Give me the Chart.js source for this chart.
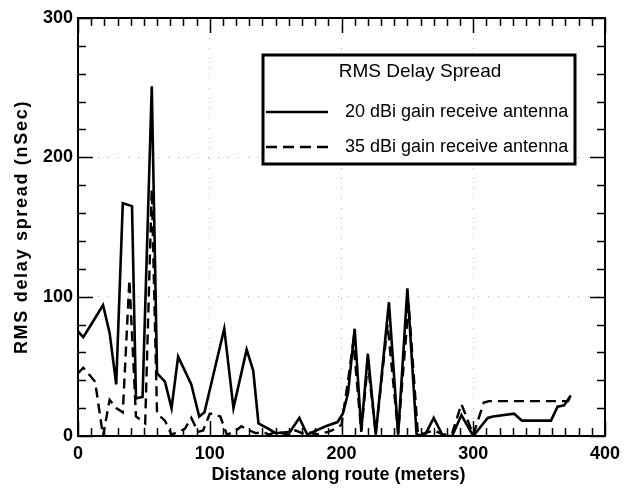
<!DOCTYPE html>
<html>
<head>
<meta charset="utf-8">
<script src="https://cdn.jsdelivr.net/npm/chart.js@4.4.1/dist/chart.umd.min.js"></script>
<style>
  html, body { margin: 0; padding: 0; background: #fff; }
  #wrap { width: 642px; height: 489px; }
</style>
</head>
<body>
<div id="wrap"><canvas id="c" width="642" height="489"></canvas></div>
<script>
// ---- data ----
const distance20 = [0,4,10,19,24,29,34,41,44,49,56,60,66,71,76,86,92,96,111,118,128,133,137,145,150,161,168,174,181,188,197,201,205,210,215,220,226,236,243,250,257,263,270,277,284,291,300,311,315,331,337,347,359,364,369,374];
const delay20    = [75,71,80,94,74,37,167,165,27,28,251,45,39,20,57,37,14,17,77,20,62,47,9,5,2,3,13,1,4,7,10,16,31,77,4,59,1,96,1,106,1,0,13,0,0,15,0,13,14,16,11,11,11,21,22,29];

const distance35 = [0,4,13,19,24,29,34,39,44,51,56,60,66,71,76,81,86,91,95,100,102,108,113,119,124,130,135,140,145,150,155,160,165,170,175,180,185,190,195,200,205,209,215,220,226,235,243,251,258,263,270,277,284,291,300,308,312,372,374];
const delay35    = [45,49,39,0,26,20,17,112,14,9,177,16,11,1,3,5,13,3,4,16,16,14,1,3,7,4,2,3,1,3,2,1,4,2,3,1,2,3,5,8,40,68,3,52,2,80,2,95,1,2,4,1,2,23,1,24,25,25,29];

const xTickValues = [0,100,200,300,400];
const yTickValues = [0,100,200,300];
const seriesNames = ['20 dBi gain receive antenna', '35 dBi gain receive antenna'];
const legendTitle = 'RMS Delay Spread';
const xTitle = 'Distance along route (meters)';
const yTitle = 'RMS delay spread (nSec)';

const toPoints = (xs, ys) => xs.map((x, i) => ({x: x, y: ys[i]}));

const FAMILY = '"Liberation Sans", Arial, sans-serif';
const LABEL_FONT = {family: FAMILY, size: 18, weight: 'bold'};

const frameTicks = {
  id: 'frameTicks',
  afterDatasetsDraw(chart) {
    const {ctx, chartArea: a, scales: {x, y}} = chart;
    ctx.save();
    ctx.strokeStyle = '#000';
    ctx.lineWidth = 1.5;
    ctx.beginPath();
    for (let v = 0; v <= 400; v += 10) {
      const px = Math.round(x.getPixelForValue(v)) + 0.5;
      const len = (v % 100 === 0) ? 15 : 8;
      ctx.moveTo(px, a.bottom); ctx.lineTo(px, a.bottom - len);
      ctx.moveTo(px, a.top); ctx.lineTo(px, a.top + len);
    }
    for (let v = 0; v <= 300; v += 20) {
      const py = Math.round(y.getPixelForValue(v)) + 0.5;
      const len = (v % 100 === 0) ? 15 : 8;
      ctx.moveTo(a.left, py); ctx.lineTo(a.left + len, py);
      ctx.moveTo(a.right, py); ctx.lineTo(a.right - len, py);
    }
    ctx.stroke();
    ctx.lineWidth = 2;
    ctx.strokeRect(a.left, a.top, a.right - a.left, a.bottom - a.top);
    ctx.restore();
  }
};

const axisTitles = {
  id: 'axisTitles',
  afterDraw(chart) {
    const {ctx, chartArea: a} = chart;
    ctx.save();
    ctx.fillStyle = '#000';
    ctx.textAlign = 'center';
    ctx.textBaseline = 'middle';
    ctx.font = 'bold 18px ' + FAMILY;
    ctx.fillText(xTitle, (a.left + a.right) / 2 - 3, 475);
    ctx.translate(22, (a.top + a.bottom) / 2);
    ctx.rotate(-Math.PI / 2);
    if ('letterSpacing' in ctx) ctx.letterSpacing = '1.7px';
    ctx.fillText(yTitle, 0, 0);
    ctx.restore();
  }
};

const boxLegend = {
  id: 'boxLegend',
  afterDraw(chart) {
    const {ctx, chartArea: a} = chart;
    const L = a.left + 185, T = a.top + 37, W = 312, H = 109;
    ctx.save();
    ctx.fillStyle = '#fff';
    ctx.fillRect(L, T, W, H);
    ctx.strokeStyle = '#000';
    ctx.lineWidth = 3;
    ctx.strokeRect(L, T, W, H);
    ctx.fillStyle = '#000';
    ctx.textBaseline = 'middle';
    ctx.textAlign = 'center';
    ctx.font = '19px ' + FAMILY;
    ctx.fillText(legendTitle, L + 157, T + 17);
    ctx.textAlign = 'left';
    ctx.font = '18px ' + FAMILY;
    const rows = [T + 57, T + 92];
    const dashes = [[], [11, 6]];
    chart.data.datasets.forEach((ds, i) => {
      ctx.setLineDash(dashes[i]);
      ctx.lineWidth = 2.5;
      ctx.beginPath();
      ctx.moveTo(L + 3, rows[i]);
      ctx.lineTo(L + 65, rows[i]);
      ctx.stroke();
      ctx.setLineDash([]);
      ctx.fillText(ds.label, L + 82, rows[i]);
    });
    ctx.restore();
  }
};

new Chart(document.getElementById('c'), {
  type: 'line',
  data: {
    datasets: [
      {
        label: seriesNames[0],
        data: toPoints(distance20, delay20),
        borderColor: '#000',
        borderWidth: 2.6,
        pointRadius: 0,
        tension: 0,
        fill: false
      },
      {
        label: seriesNames[1],
        data: toPoints(distance35, delay35),
        borderColor: '#000',
        borderWidth: 2.4,
        borderDash: [10, 6],
        pointRadius: 0,
        tension: 0,
        fill: false
      }
    ]
  },
  options: {
    responsive: false,
    animation: false,
    events: [],
    layout: {padding: {top: 18, right: 37, left: 0, bottom: 0}},
    plugins: {legend: {display: false}, tooltip: {enabled: false}, title: {display: false}},
    scales: {
      x: {
        type: 'linear',
        min: 0, max: 400,
        afterFit: (s) => { s.height = 53; },
        afterBuildTicks: (s) => { s.ticks = xTickValues.map(v => ({value: v})); },
        ticks: {color: '#000', font: LABEL_FONT, padding: 7, maxRotation: 0},
        grid: {drawTicks: false, color: 'rgba(0,0,0,0.3)', lineWidth: 1},
        border: {display: false, dash: [1, 9]},
        title: {display: false}
      },
      y: {
        type: 'linear',
        min: 0, max: 300,
        afterFit: (s) => { s.width = 78; },
        afterBuildTicks: (s) => { s.ticks = yTickValues.map(v => ({value: v})); },
        ticks: {color: '#000', font: LABEL_FONT, padding: 5},
        grid: {drawTicks: false, color: 'rgba(0,0,0,0.3)', lineWidth: 1},
        border: {display: false, dash: [1, 9]},
        title: {display: false}
      }
    }
  },
  plugins: [frameTicks, axisTitles, boxLegend]
});
</script>
</body>
</html>
